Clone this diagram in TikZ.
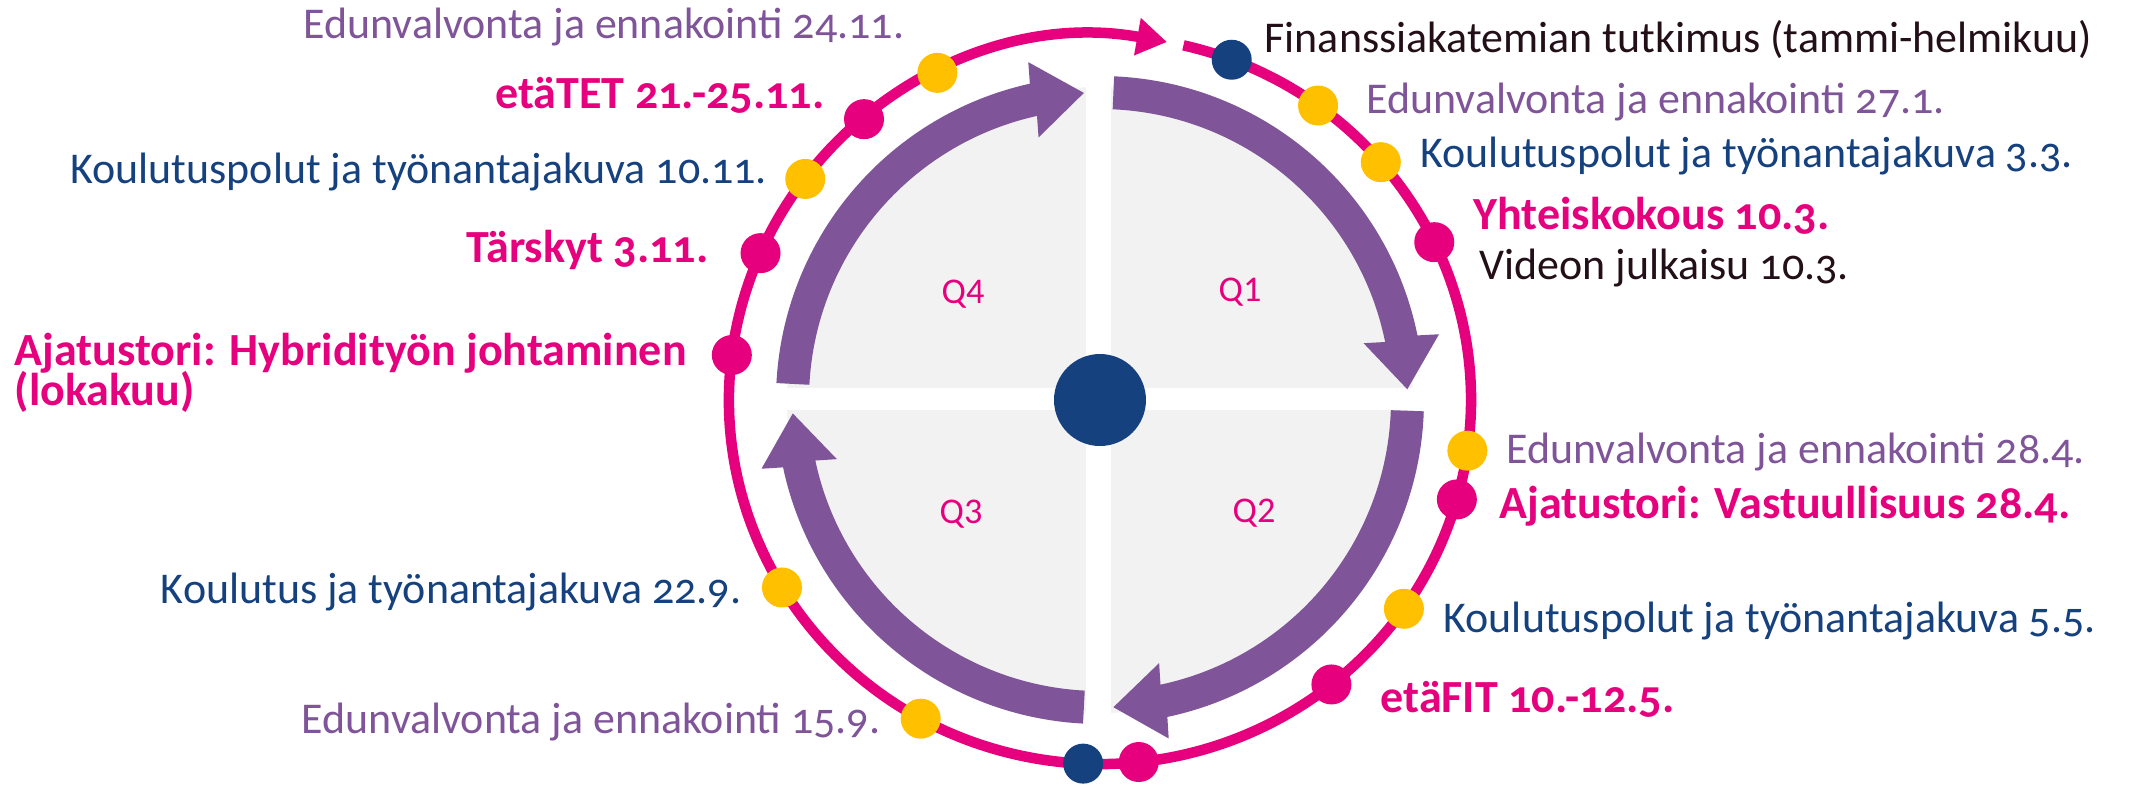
\documentclass[tikz,border=0pt]{standalone}
\usepackage{fontspec}
\setmainfont{Carlito}[Numbers=OldStyle]
\newfontfamily\qfont{Carlito}
\usetikzlibrary{arrows.meta,calc}
\definecolor{ringpink}{HTML}{E6007E}
\definecolor{qpurple}{HTML}{7F5499}
\definecolor{navyblue}{HTML}{16417F}
\definecolor{sunyellow}{HTML}{FFC000}
\definecolor{qgray}{HTML}{F2F2F2}
\definecolor{darktext}{HTML}{230F18}
\def\labfont{\fontsize{12.5}{14}\selectfont}
\def\boldfont{\fontsize{13.1}{11}\selectfont\bfseries}

\begin{document}
\begin{tikzpicture}[
  dot/.style={circle, minimum size=4mm, inner sep=0pt},
  ydot/.style={dot, fill=sunyellow},
  pdot/.style={dot, fill=ringpink},
  ndot/.style={dot, fill=navyblue},
  ev/.style={inner sep=0pt, font=\labfont, text=qpurple},
  kp/.style={inner sep=0pt, font=\labfont, text=navyblue},
  pk/.style={inner sep=0pt, font=\boldfont, text=ringpink},
  dk/.style={inner sep=0pt, font=\labfont, text=darktext},
  qlab/.style={font=\qfont\fontsize{10.3}{12}\selectfont, text=ringpink},
  ring/.style={draw=ringpink, line width=1.05mm, -{Triangle[length=3mm,width=3.6mm]}}
]
\useasboundingbox[fill=white] (-11.00,-3.84) rectangle (10.52,4.00);

% quarters
\fill[qgray] (0,0) circle (3.13);
\fill[white] (-0.135,-3.3) rectangle (0.115,3.3);
\fill[white] (-3.3,-0.10) rectangle (3.3,0.12);
\foreach \s/\b/\t in {177/102.5/93, 87.5/11.5/2, -2/-78/-87.5, -93/-168/-177.5}
  \fill[qpurple] (\s:3.24) arc[start angle=\s, end angle=\b, radius=3.24]
    -- ($(\b:3.075)!0.38cm!90:(\t:3.075)$) -- (\t:3.075)
    -- ($(\b:3.075)!0.38cm!-90:(\t:3.075)$)
    -- (\b:2.91) arc[start angle=\b, end angle=\s, radius=2.91] -- cycle;
\node[circle, fill=navyblue, minimum size=9.2mm, inner sep=0pt] (hub) at (0,0) {};
\node[qlab] (q1) at (1.40,1.08) {Q1};
\node[qlab] (q2) at (1.54,-1.13) {Q2};
\node[qlab] (q3) at (-1.39,-1.14) {Q3};
\node[qlab] (q4) at (-1.37,1.06) {Q4};

% year ring
\draw[ring] (77:3.71cm and 3.64cm) arc[start angle=77, end angle=-280.4, x radius=3.71, y radius=3.64];

% events, Q1 and Q2
\node[ndot] (fin) at (69.2:3.71cm and 3.64cm) {};
\node[ydot] (ed1) at (54:3.71cm and 3.64cm) {};
\node[ydot] (kp1) at (40.8:3.71cm and 3.64cm) {};
\node[pdot] (yht) at (25.7:3.71cm and 3.64cm) {};
\node[ydot] (ed2) at (-8:3.71cm and 3.64cm) {};
\node[pdot] (vas) at (-15.85:3.71cm and 3.64cm) {};
\node[ydot] (kp2) at (-35:3.71cm and 3.64cm) {};
\node[pdot] (fit) at (-51.4:3.71cm and 3.64cm) {};
\node[pdot] (jun) at (-84:3.71cm and 3.64cm) {};
\node[ndot] (jul) at (-92.6:3.71cm and 3.64cm) {};
% events, Q3 and Q4
\node[ydot] (ed3) at (241.1:3.71cm and 3.64cm) {};
\node[ydot] (ko3) at (211:3.71cm and 3.64cm) {};
\node[pdot] (hyb) at (172.9:3.71cm and 3.64cm) {};
\node[pdot] (tar) at (156.2:3.71cm and 3.64cm) {};
\node[ydot] (kp4) at (142.6:3.71cm and 3.64cm) {};
\node[pdot] (tet) at (129.5:3.71cm and 3.64cm) {};
\node[ydot] (ed4) at (116:3.71cm and 3.64cm) {};

\node[dk, anchor=base west] (fin-l) at (1.64,3.48) {Finanssiakatemian tutkimus (tammi-helmikuu)};
\node[ev, anchor=base west] (ed1-l) at (2.66,2.87) {Edunvalvonta ja ennakointi 27.1.};
\node[kp, anchor=base west] (kp1-l) at (3.20,2.33) {Koulutuspolut ja työnantajakuva 3.3.};
\node[pk, anchor=base west] (yht-l) at (3.73,1.71) {Yhteiskokous 10.3.};
\node[dk, anchor=base west] (vid-l) at (3.79,1.21) {Videon julkaisu 10.3.};
\node[ev, anchor=base west] (ed2-l) at (4.06,-0.63) {Edunvalvonta ja ennakointi 28.4.};
\node[pk, anchor=base west] (vas-l) at (3.99,-1.18) {Ajatustori: Vastuullisuus 28.4.};
\node[kp, anchor=base west] (kp2-l) at (3.43,-2.32) {Koulutuspolut ja työnantajakuva 5.5.};
\node[pk, anchor=base west] (fit-l) at (2.80,-3.12) {etäFIT 10.-12.5.};

\node[ev, anchor=base east] (ed3-l) at (-2.19,-3.33) {Edunvalvonta ja ennakointi 15.9.};
\node[kp, anchor=base east] (ko3-l) at (-3.58,-2.03) {Koulutus ja työnantajakuva 22.9.};
\node[pk, anchor=base west, align=left] (hyb-l) at (-10.86,-0.05) {Ajatustori: Hybridityön johtaminen\\[-1.8pt](lokakuu)};
\node[pk, anchor=base east] (tar-l) at (-3.91,1.38) {Tärskyt 3.11.};
\node[kp, anchor=base east] (kp4-l) at (-3.32,2.17) {Koulutuspolut ja työnantajakuva 10.11.};
\node[pk, anchor=base east] (tet-l) at (-2.75,2.92) {etäTET 21.-25.11.};
\node[ev, anchor=base east] (ed4-l) at (-1.95,3.62) {Edunvalvonta ja ennakointi 24.11.};
\end{tikzpicture}
\end{document}
